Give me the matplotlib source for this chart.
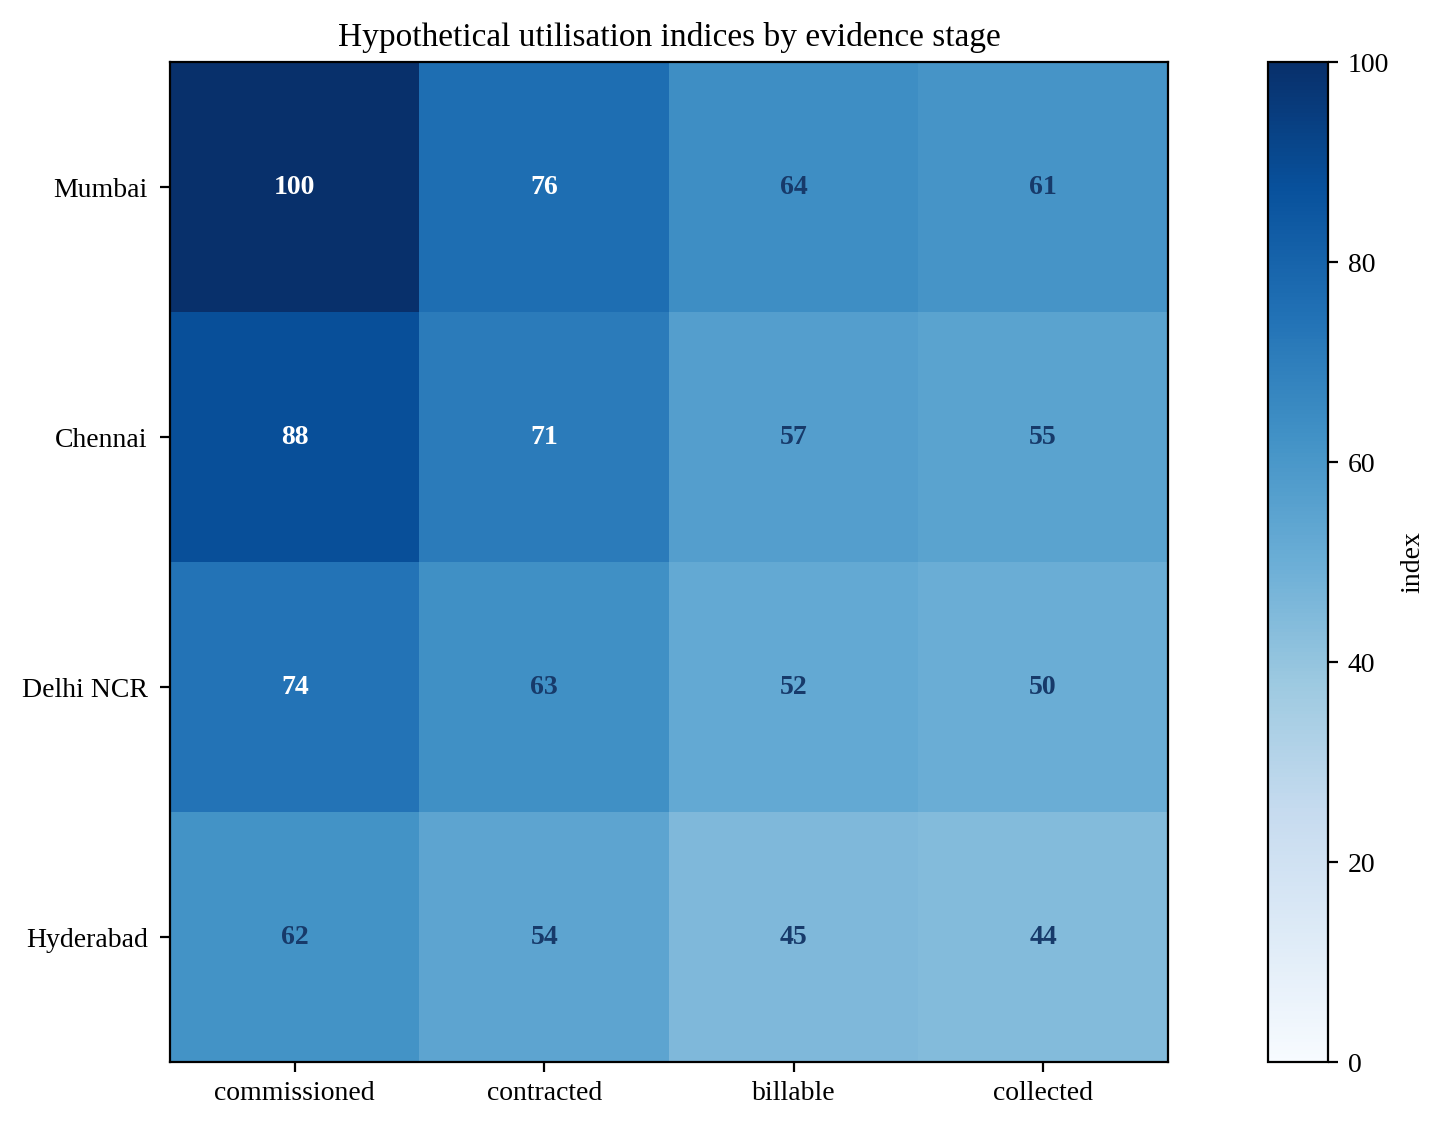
import numpy as np
import matplotlib
matplotlib.use("Agg")
import matplotlib.pyplot as plt

plt.rcParams['font.family'] = ['Liberation Serif', 'DejaVu Serif']

cities = ["Mumbai", "Chennai", "Delhi NCR", "Hyderabad"]
stages = ["commissioned", "contracted", "billable", "collected"]
mumbai = [100, 76, 64, 61]
chennai = [88, 71, 57, 55]
delhi = [74, 63, 52, 50]
hyderabad = [62, 54, 45, 44]

data = np.array([mumbai, chennai, delhi, hyderabad])

fig = plt.figure(figsize=(7.23, 5.655), dpi=200)
ax = fig.add_axes([0.1176, 0.061, 0.690, 0.884])
cax = fig.add_axes([0.877, 0.061, 0.0415, 0.884])

im = ax.imshow(data, cmap="Blues", vmin=0, vmax=100, aspect="auto")
ax.set_xticks(range(len(stages)))
ax.set_xticklabels(stages, fontsize=10)
ax.set_yticks(range(len(cities)))
ax.set_yticklabels(cities, fontsize=10)
ax.tick_params(axis="y", pad=4.5)
ax.set_title("Hypothetical utilisation indices by evidence stage", fontsize=12)

for i in range(data.shape[0]):
    for j in range(data.shape[1]):
        v = data[i, j]
        color = "white" if v >= 70 else "#173a6a"
        ax.text(j, i, f"{v}", ha="center", va="center", color=color,
                fontsize=10, fontweight="bold")

cb = fig.colorbar(im, cax=cax)
cb.set_label("index", fontsize=10)
cb.ax.tick_params(labelsize=10)

fig.savefig("out.png", dpi=200)
